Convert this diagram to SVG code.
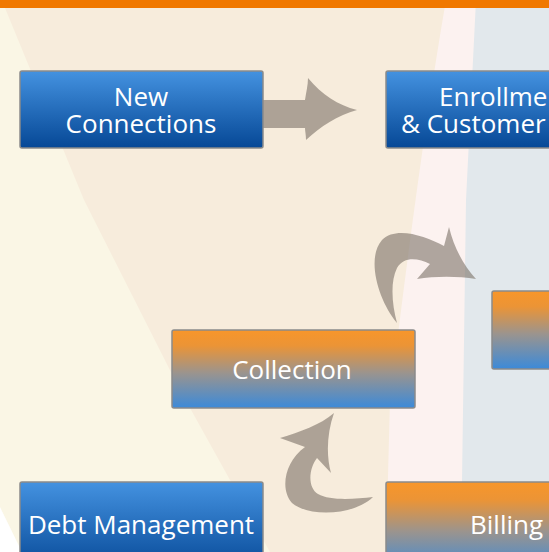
<svg xmlns="http://www.w3.org/2000/svg" width="549" height="552" viewBox="0 0 549 552">
<defs>
<linearGradient id="gBlue" x1="0" y1="0" x2="0" y2="1">
<stop offset="0" stop-color="#4492e0"/>
<stop offset="1" stop-color="#064896"/>
</linearGradient>
<linearGradient id="gOrange" x1="0" y1="0" x2="0" y2="1">
<stop offset="0" stop-color="#f8962a"/>
<stop offset="0.2" stop-color="#eb9436"/>
<stop offset="0.55" stop-color="#9b948e"/>
<stop offset="1" stop-color="#3c8ad9"/>
</linearGradient>
<style>
.box{stroke:#8a8a8a;stroke-width:1.5}
.blue{fill:url(#gBlue)}
.orange{fill:url(#gOrange)}
.lbl{font-family:"Open Sans","Liberation Sans",sans-serif;font-size:26px;fill:#ffffff}
.arrow{fill:#7c7268;fill-opacity:0.6}
</style>
</defs>
<g id="background">
<rect x="0" y="0" width="549" height="552" fill="#e2e8ec"/>
<path d="M0,0 L476,0 L466,200 L461,552 L0,552 Z" fill="#fcf2f0"/>
<path d="M0,0 L446,0 Q420,150 390,400 L386,552 L0,552 Z" fill="#f7ecdc"/>
<path d="M0,0 L5,8 L84,200 L180,390 L270,552 L0,552 Z" fill="#faf6e5"/>
<path d="M0,507 L22,552 L0,552 Z" fill="#ffffff"/>
<rect x="0" y="0" width="549" height="8" fill="#f07800"/>
</g>
<g id="connectors">
<path class="arrow" d="M263,100 L305,100 C306,93 308,85 308,78 C322,95 338,105 357,110 C338,115 320,127 306,140 C306,135 305,131 305,128 L263,128 Z"/>
<path class="arrow" d="M397,323 C378,300 366,258 382,240 C396,226 425,236 444,246 L449,227 C454,248 464,266 476,279 C458,276 435,276 417,279 L430,264 C418,258 404,256 397,268 C390,282 392,305 397,323 Z"/>
<path class="arrow" d="M373,497 C355,515 310,518 292,503 C280,490 284,462 305,447 L280,438 C300,432 320,425 334,413 C327,433 326,455 331,473 L317,458 C308,470 308,488 318,494 C330,501 355,499 373,497 Z"/>
</g>
<g id="node-new-connections">
<rect class="box blue" x="20" y="71" width="243" height="77" rx="2"/>
<text class="lbl" x="141" y="106" text-anchor="middle">New</text>
<text class="lbl" x="141" y="133" text-anchor="middle">Connections</text>
</g>
<g id="node-enrollment">
<rect class="box blue" x="386" y="71" width="200" height="77" rx="2"/>
<text class="lbl" x="439" y="106">Enrollme</text>
<text class="lbl" x="401" y="133">&amp; Customer</text>
</g>
<g id="node-right">
<rect class="box orange" x="492" y="291" width="80" height="78" rx="2"/>
</g>
<g id="node-collection">
<rect class="box orange" x="172" y="330" width="243" height="78" rx="2"/>
<text class="lbl" x="292" y="379" text-anchor="middle">Collection</text>
</g>
<g id="node-debt">
<rect class="box blue" x="20" y="482" width="243" height="90" rx="2"/>
<text class="lbl" x="141" y="534" text-anchor="middle">Debt Management</text>
</g>
<g id="node-billing">
<rect class="box orange" x="386" y="482" width="200" height="90" rx="2"/>
<text class="lbl" x="470" y="534">Billing</text>
</g>
</svg>
